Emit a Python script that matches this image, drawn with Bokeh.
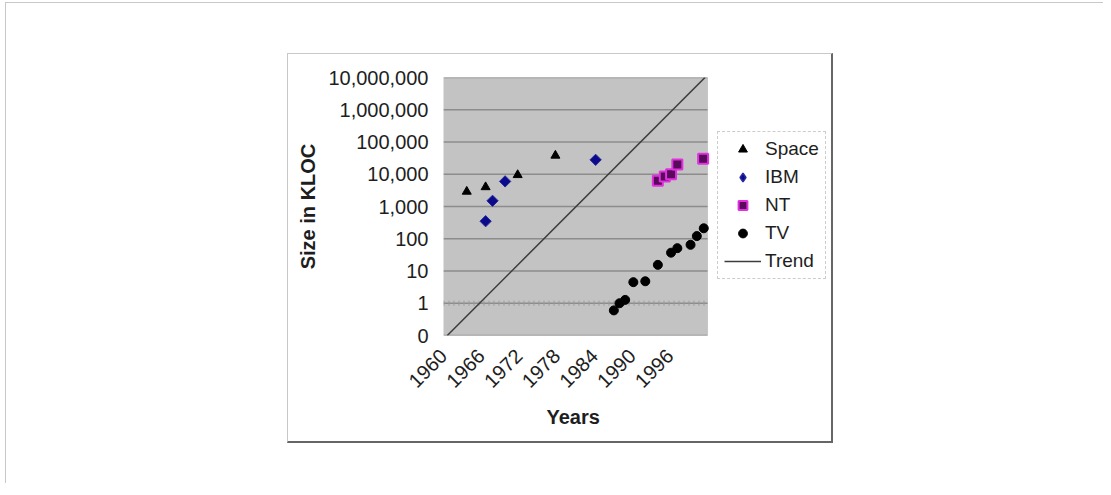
from bokeh.plotting import figure
from bokeh.layouts import column
from bokeh.models import (Range1d, FixedTicker, NumeralTickFormatter, Legend, LegendItem,
                          BoxAnnotation, Title)
from bokeh.embed import file_html
from bokeh.resources import INLINE
import math

# ---- data ----
space_years = [1963.7, 1966.7, 1971.8, 1977.8]
space_kloc = [2900, 4000, 9500, 38000]
ibm_years = [1966.7, 1967.8, 1969.8, 1984.2]
ibm_kloc = [350, 1500, 6000, 28000]
nt_years = [1994.1, 1995.2, 1996.2, 1997.2, 2001.3]
nt_kloc = [6300, 8500, 10000, 20000, 30000]
tv_years = [1987.1, 1988.0, 1988.9, 1990.2, 1992.1, 1994.1, 1996.2, 1997.2, 1999.3, 2000.3, 2001.4]
tv_kloc = [0.6, 1.0, 1.27, 4.5, 4.8, 15.5, 37, 51, 65, 121, 211]
trend_years = [1960.6, 2001.6]
trend_kloc = [0.1, 1e7]
year_ticks = [1960, 1966, 1972, 1978, 1984, 1990, 1996]
kloc_ticks = [0.1, 1, 10, 100, 1e3, 1e4, 1e5, 1e6, 1e7]
x_min, x_max = 1960, 2002          # plot-area extent (years)
y_min, y_max = 0.1, 1e7            # plot-area extent (KLOC)
x_cross = 1                        # Excel's category axis crosses the log axis at 1

FONT = "Liberation Sans"
TXT = "#1e1e1e"

# the frame is widened to the right so that the legend (which sits outside
# the grey plot area) is not clipped; the grey plot area is drawn as a box.
p = figure(width=546, height=390, output_backend="svg", toolbar_location=None,
           x_range=Range1d(x_min, 2022.04), y_range=Range1d(y_min, y_max), y_axis_type="log",
           min_border_left=155, min_border_right=1, min_border_top=23, min_border_bottom=109)
p.margin = (50, 270, 40, 281)
p.styles = {"border-top": "1px solid #c8c8c8", "border-left": "1px solid #c8c8c8",
            "border-right": "2px solid #666666", "border-bottom": "2px solid #666666"}

p.background_fill_color = "white"
p.border_fill_color = "white"
p.outline_line_color = None
p.xgrid.visible = False
p.ygrid.visible = False

p.add_layout(BoxAnnotation(left=x_min, right=x_max, bottom=y_min, top=y_max,
                           fill_color="#c3c3c3", fill_alpha=1, line_color="#8a8a8a",
                           line_width=1, level="image"))

# horizontal gridlines limited to the plot area
n = len(kloc_ticks)
p.segment(x0=[x_min] * n, x1=[x_max] * n, y0=kloc_ticks, y1=kloc_ticks,
          line_color="#8c8c8c", line_width=1.5, level="underlay")
# Excel-style horizontal axis at 1 with small tick marks
p.segment(x0=[x_min], x1=[x_max], y0=[x_cross], y1=[x_cross],
          line_color="#9a9a9a", line_width=5, line_dash="1 4", level="underlay")

for ax in (p.xaxis[0], p.yaxis[0]):
    ax.axis_line_color = None
    ax.major_tick_line_color = None
    ax.minor_tick_line_color = None
    ax.major_tick_out = 0
    ax.major_tick_in = 0
    ax.minor_tick_out = 0
    ax.minor_tick_in = 0
    ax.major_label_text_font = FONT
    ax.major_label_text_font_size = "20px"
    ax.major_label_text_color = TXT
    ax.axis_label_text_font = FONT
    ax.axis_label_text_font_size = "20px"
    ax.axis_label_text_font_style = "bold"
    ax.axis_label_text_color = TXT

p.xaxis.ticker = FixedTicker(ticks=year_ticks)
p.xaxis.major_label_orientation = math.pi / 4
p.xaxis.major_label_standoff = 17

p.yaxis.ticker = FixedTicker(ticks=kloc_ticks)
p.yaxis.formatter = NumeralTickFormatter(format="0,0")
p.yaxis.major_label_standoff = 15
p.yaxis.axis_label = "Size in KLOC"
p.yaxis.axis_label_standoff = 6

p.add_layout(Title(text="Years", align="left", offset=103, standoff=15,
                   text_font=FONT, text_font_size="20px", text_font_style="bold",
                   text_color=TXT), "below")

r_trend = p.line(trend_years, trend_kloc, line_color="#3c3c3c", line_width=1.5)
r_space = p.scatter(space_years, space_kloc, marker="triangle", size=9, color="black")
r_ibm = p.scatter(ibm_years, ibm_kloc, marker="square", angle=math.pi / 4, size=8,
                  fill_color="#0a0a8a", line_color="#2a2aa0")
r_ibm_key = p.scatter(ibm_years, ibm_kloc, marker="diamond", size=11,
                      fill_color="#0a0a8a", line_color="#2a2aa0", line_width=1.5, visible=False)
r_nt = p.scatter(nt_years, nt_kloc, marker="square", size=10, fill_color="#5a0a5a",
                 line_color="#e030e0", line_width=2)
r_tv = p.scatter(tv_years, tv_kloc, marker="circle", size=9, color="black")

legend = Legend(items=[LegendItem(label="Space", renderers=[r_space]),
                       LegendItem(label="IBM", renderers=[r_ibm_key]),
                       LegendItem(label="NT", renderers=[r_nt]),
                       LegendItem(label="TV", renderers=[r_tv]),
                       LegendItem(label="Trend", renderers=[r_trend])],
                location=(274, 56))
legend.label_text_font = FONT
legend.label_text_font_size = "19px"
legend.label_text_color = TXT
legend.glyph_width = 37
legend.glyph_height = 22
legend.label_height = 22
legend.label_standoff = 4
legend.spacing = 6
legend.padding = 6
legend.margin = 0
legend.border_line_color = "#9a9a9a"
legend.border_line_dash = "2 2"
legend.background_fill_color = "white"
legend.background_fill_alpha = 1
p.add_layout(legend, "center")

page = column(p, styles={"border-top": "1px solid #c8c8c8", "border-left": "1px solid #c8c8c8",
                         "margin-left": "5px", "margin-top": "2px"})

open("out.html", "w").write(file_html(page, INLINE))
